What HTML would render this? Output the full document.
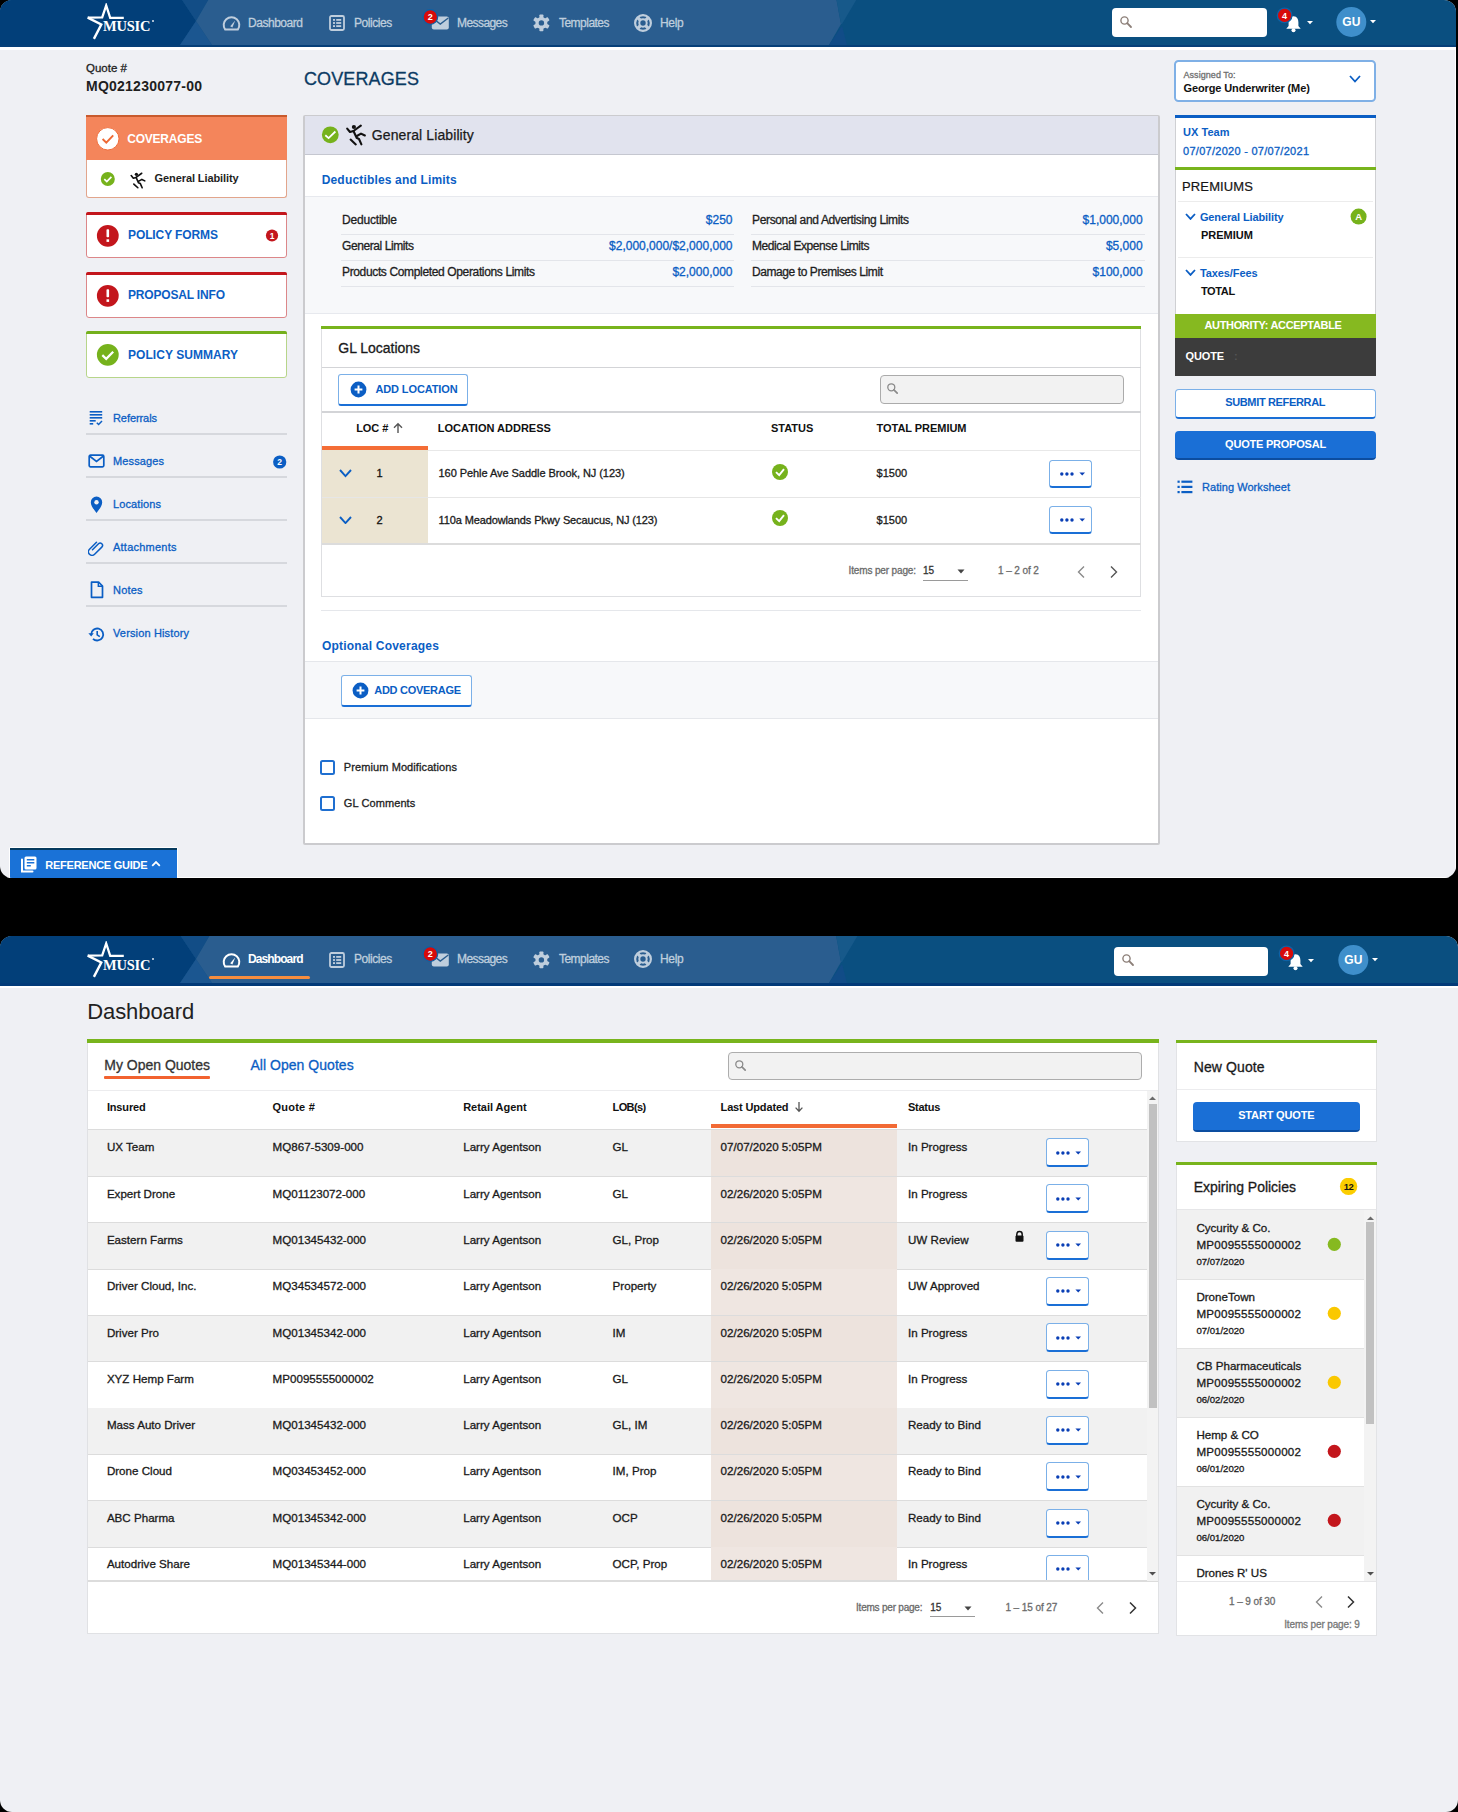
<!DOCTYPE html>
<html><head><meta charset="utf-8"><title>MUSIC</title>
<style>
*{box-sizing:border-box}
html,body{margin:0;padding:0}
body{width:1458px;height:1812px;background:#000;position:relative;overflow:hidden;font-family:"Liberation Sans", sans-serif}
.a{position:absolute}
.t{position:absolute;white-space:nowrap;line-height:1}
.r{-webkit-text-stroke:0.3px currentColor}
#s1{position:absolute;left:0;top:0;width:1456px;height:878px;border-radius:12px;overflow:hidden;background:#eff0f4}
#s2{position:absolute;left:0;top:936px;width:1458px;height:876px;border-radius:12px;overflow:hidden;background:#eff0f4}
#s2i{position:absolute;left:0;top:-936px;width:1458px;height:1812px}
</style></head>
<body>
<div id="s1">
<div class="a" style="left:0px;top:-3px;width:1460px;height:48px;background:#0a4f80"></div>
<svg class="a" style="left:0px;top:-3px;" width="1460" height="48" viewBox="0 0 1460 48">
      <polygon points="0,0 180,0 196,24 180,48 0,48" fill="#023f79"/>
      <polygon points="180,0 210,0 196,24" fill="#124d86"/>
      <polygon points="180,48 212,48 196,24" fill="#1b5690"/>
      <polygon points="210,0 836,0 841,27 829,48 212,48 196,24" fill="#2a5d8f"/>
      <polygon points="836,0 858,0 842,27 841,27" fill="#17598a"/>
      <polygon points="829,48 847,48 842,29" fill="#114c87"/>
    </svg>
<div class="a" style="left:0px;top:45px;width:1460px;height:2.299999999999997px;background:#063f78"></div>
<div class="a" style="left:0px;top:47.3px;width:1460px;height:2.8000000000000043px;background:#ffffff"></div>
<svg class="a" style="left:84px;top:3px;" width="40" height="40" viewBox="0 0 40 40">
      <path d="M3.7,14.6 L18.2,14.4 L22.2,2.5 L26.2,14.8 L39.8,14.8" fill="none" stroke="#fff" stroke-width="2.3" stroke-linejoin="miter"/>
      <path d="M3.7,14.6 L17.3,21.5 L9.9,35.9" fill="none" stroke="#fff" stroke-width="2.4" stroke-linejoin="miter"/>
    </svg>
<div class="t" style="left:103px;top:19.23px;font-size:14.5px;font-weight:700;color:#ffffff;font-family:'Liberation Serif', serif;letter-spacing:-0.211px;">MUSIC</div>
<div class="a" style="left:151.5px;top:20px;width:2.0px;height:2px;background:#dfe6ee;border-radius:1px"></div>
<svg class="a" style="left:222px;top:16px;" width="19" height="15" viewBox="0 0 19 15">
      <path d="M3.2,13.6 A7.8,7.8 0 1 1 15.8,13.6 Z" fill="none" stroke="#bfcedd" stroke-width="2" stroke-linejoin="round"/>
      <path d="M8.2,10.2 L13.2,4.6 L10.4,11.6 Z" fill="#bfcedd"/>
    </svg>
<div class="t r" style="left:248px;top:16.84px;font-size:12px;font-weight:400;color:#bfcedd;letter-spacing:-0.465px;">Dashboard</div>
<svg class="a" style="left:329px;top:15px;" width="16" height="16" viewBox="0 0 16 16">
      <rect x="1" y="1" width="14" height="14" rx="1.5" fill="none" stroke="#bfcedd" stroke-width="1.8"/>
      <rect x="4" y="4" width="2" height="1.8" fill="#bfcedd"/><rect x="7.2" y="4" width="5" height="1.8" fill="#bfcedd"/>
      <rect x="4" y="7.1" width="2" height="1.8" fill="#bfcedd"/><rect x="7.2" y="7.1" width="5" height="1.8" fill="#bfcedd"/>
      <rect x="4" y="10.2" width="2" height="1.8" fill="#bfcedd"/><rect x="7.2" y="10.2" width="5" height="1.8" fill="#bfcedd"/>
    </svg>
<div class="t r" style="left:354px;top:16.84px;font-size:12px;font-weight:400;color:#bfcedd;letter-spacing:-0.437px;">Policies</div>
<svg class="a" style="left:431px;top:16px;" width="19" height="14" viewBox="0 0 19 14">
      <rect x="0.8" y="0.5" width="17" height="13" rx="2" fill="#bfcedd"/>
      <path d="M1.5,2 L9.3,8 L17.3,2" fill="none" stroke="#2a5d8f" stroke-width="1.4"/>
    </svg>
<svg class="a" style="left:422px;top:9px;" width="17" height="17" viewBox="0 0 17 17">
      <circle cx="8.3" cy="8" r="7.3" fill="#d70a0a" stroke="#0c62a6" stroke-width="1.3"/>
      <text x="8.3" y="11.3" font-size="9" font-weight="700" fill="#fff" text-anchor="middle" font-family="Liberation Sans">2</text>
    </svg>
<div class="t r" style="left:457px;top:16.84px;font-size:12px;font-weight:400;color:#bfcedd;letter-spacing:-0.572px;">Messages</div>
<svg class="a" style="left:532px;top:14px;" width="18" height="18" viewBox="0 0 18 18">
      <g transform="translate(9.4,8.9)"><rect x="-2" y="-8.4" width="4" height="4.2" rx="0.8" fill="#bfcedd" transform="rotate(0)"/><rect x="-2" y="-8.4" width="4" height="4.2" rx="0.8" fill="#bfcedd" transform="rotate(60)"/><rect x="-2" y="-8.4" width="4" height="4.2" rx="0.8" fill="#bfcedd" transform="rotate(120)"/><rect x="-2" y="-8.4" width="4" height="4.2" rx="0.8" fill="#bfcedd" transform="rotate(180)"/><rect x="-2" y="-8.4" width="4" height="4.2" rx="0.8" fill="#bfcedd" transform="rotate(240)"/><rect x="-2" y="-8.4" width="4" height="4.2" rx="0.8" fill="#bfcedd" transform="rotate(300)"/>
      <circle r="6" fill="#bfcedd"/><circle r="2.7" fill="#2a5d8f"/></g>
    </svg>
<div class="t r" style="left:559px;top:16.84px;font-size:12px;font-weight:400;color:#bfcedd;letter-spacing:-0.525px;">Templates</div>
<svg class="a" style="left:633px;top:12.6px;" width="20" height="20" viewBox="0 0 20 20">
      <circle cx="10" cy="10" r="7.9" fill="none" stroke="#bfcedd" stroke-width="2.2"/>
      <circle cx="10" cy="10" r="3.7" fill="none" stroke="#bfcedd" stroke-width="2"/>
      <path d="M4.9,4.9 L7.4,7.4 M15.1,4.9 L12.6,7.4 M4.9,15.1 L7.4,12.6 M15.1,15.1 L12.6,12.6" stroke="#bfcedd" stroke-width="3.4"/>
    </svg>
<div class="t r" style="left:660px;top:16.84px;font-size:12px;font-weight:400;color:#bfcedd;letter-spacing:-0.296px;">Help</div>
<div class="a" style="left:1112.3px;top:8.4px;width:154.4000000000001px;height:28.800000000000004px;background:#fff;border-radius:4px"></div>
<svg class="a" style="left:1119px;top:15px;" width="14" height="14" viewBox="0 0 14 14">
      <circle cx="5.5" cy="5.5" r="3.6" fill="none" stroke="#8c7f78" stroke-width="1.4"/>
      <path d="M8.2,8.2 L12,12" stroke="#8c7f78" stroke-width="1.8" stroke-linecap="round"/>
    </svg>
<svg class="a" style="left:1285px;top:15px;" width="17" height="18" viewBox="0 0 17 18">
      <path d="M8.5,1.2 C4.8,1.2 3.6,4.6 3.6,7.5 L3.6,11 L1.3,13.8 L15.7,13.8 L13.4,11 L13.4,7.5 C13.4,4.6 12.2,1.2 8.5,1.2 Z" fill="#fff"/>
      <circle cx="8.5" cy="15.2" r="2" fill="#fff"/>
    </svg>
<svg class="a" style="left:1276px;top:6.5px;" width="17" height="17" viewBox="0 0 17 17">
      <circle cx="8.6" cy="8.4" r="7.3" fill="#d70a0a" stroke="#0c62a6" stroke-width="1.3"/>
      <text x="8.6" y="11.7" font-size="9" font-weight="700" fill="#fff" text-anchor="middle" font-family="Liberation Sans">4</text>
    </svg>
<svg class="a" style="left:1306.5px;top:21px;" width="6" height="4" viewBox="0 0 6 4"><path d="M0,0 L6,0 L3,3.2 Z" fill="#fff"/></svg>
<svg class="a" style="left:1336px;top:7px;" width="31" height="31" viewBox="0 0 31 31">
      <circle cx="15.3" cy="15" r="15" fill="#3f8fcb"/>
      <text x="15.3" y="19.2" font-size="12" font-weight="700" fill="#fff" text-anchor="middle" font-family="Liberation Sans">GU</text>
    </svg>
<svg class="a" style="left:1370px;top:19.5px;" width="6" height="4" viewBox="0 0 6 4"><path d="M0,0 L6,0 L3,3.2 Z" fill="#fff"/></svg>
<div class="a" style="left:1455px;top:49px;width:1px;height:829px;background:#fff"></div>
<div class="a" style="left:0px;top:877px;width:1456px;height:1px;background:#fff"></div>
<div class="t r" style="left:86px;top:63.27px;font-size:11.5px;font-weight:400;color:#1e1e1e;letter-spacing:0.013px;">Quote #</div>
<div class="t" style="left:86px;top:78.85px;font-size:14px;font-weight:700;color:#1e1e1e;letter-spacing:0.240px;">MQ021230077-00</div>
<div class="a" style="left:86px;top:115px;width:201px;height:45px;background:#f4855b"></div>
<div class="a" style="left:86px;top:115px;width:201px;height:2px;background:#c85a2d"></div>
<div class="a" style="left:86px;top:160px;width:201px;height:38px;background:#fff;border:1px solid #e2a58c;border-top:none;border-radius:0 0 3px 3px"></div>
<svg class="a" style="left:96px;top:127px;" width="24" height="24" viewBox="0 0 24 24">
  <circle cx="11.8" cy="11.8" r="11.2" fill="#fff" stroke="#ef6d3b" stroke-width="1"/>
  <path d="M6.6,12 L10.3,15.6 L17.2,8.4" fill="none" stroke="#ee6a35" stroke-width="2"/>
</svg>
<div class="t" style="left:127.2px;top:132.64px;font-size:12px;font-weight:700;color:#ffffff;letter-spacing:-0.211px;">COVERAGES</div>
<svg class="a" style="left:100px;top:171px;" width="16" height="16" viewBox="0 0 16 16">
  <circle cx="7.8" cy="8" r="7" fill="#76b21c"/>
  <path d="M4.3,8.2 L6.8,10.6 L11.4,5.8" fill="none" stroke="#fff" stroke-width="1.7"/>
</svg>
<svg class="a" style="left:129.5px;top:171.5px;width:16px;height:17px" width="19" height="22" viewBox="0 0 20 22"><g fill="none" stroke="#111" stroke-width="2.1" stroke-linecap="round" stroke-linejoin="round">
  <path d="M1.2,4.6 L4,8 L7.5,7 L14.8,1.6"/><path d="M7.5,7 L10,12.5 L15,9.6 L18.8,11.5"/>
  <path d="M10.5,13.8 L13,15 L15.4,20.4"/><path d="M4.6,15.6 L9.8,20.4"/></g>
  <circle cx="7.9" cy="3" r="2.1" fill="#111"/></svg>
<div class="t" style="left:154.6px;top:172.69px;font-size:11px;font-weight:700;color:#1e1e1e;letter-spacing:-0.100px;">General Liability</div>
<div class="a" style="left:86px;top:211.5px;width:201px;height:46.5px;background:#fff;border:1px solid #dc8789;border-radius:3px"></div>
<div class="a" style="left:86px;top:211.5px;width:201px;height:3.0px;background:#c3161c;border-radius:2px 2px 0 0"></div>
<svg class="a" style="left:96px;top:224.0px;" width="24" height="24" viewBox="0 0 24 24">
      <circle cx="11.8" cy="11.8" r="10.9" fill="#c3161c"/>
      <rect x="10.5" y="5.3" width="2.6" height="8" rx="0.8" fill="#fff"/>
      <rect x="10.5" y="15.3" width="2.6" height="2.6" fill="#fff"/>
    </svg>
<div class="t" style="left:128px;top:229.44px;font-size:12px;font-weight:700;color:#0b5ec4;letter-spacing:-0.102px;">POLICY FORMS</div>
<svg class="a" style="left:265px;top:229.0px;" width="14" height="14" viewBox="0 0 14 14">
          <circle cx="7" cy="6.5" r="6.1" fill="#c3161c"/>
          <text x="7" y="9.6" font-size="8.5" font-weight="700" fill="#fff" text-anchor="middle" font-family="Liberation Sans">1</text>
        </svg>
<div class="a" style="left:86px;top:271.5px;width:201px;height:46.5px;background:#fff;border:1px solid #dc8789;border-radius:3px"></div>
<div class="a" style="left:86px;top:271.5px;width:201px;height:3.0px;background:#c3161c;border-radius:2px 2px 0 0"></div>
<svg class="a" style="left:96px;top:284.0px;" width="24" height="24" viewBox="0 0 24 24">
      <circle cx="11.8" cy="11.8" r="10.9" fill="#c3161c"/>
      <rect x="10.5" y="5.3" width="2.6" height="8" rx="0.8" fill="#fff"/>
      <rect x="10.5" y="15.3" width="2.6" height="2.6" fill="#fff"/>
    </svg>
<div class="t" style="left:128px;top:289.44px;font-size:12px;font-weight:700;color:#0b5ec4;letter-spacing:-0.177px;">PROPOSAL INFO</div>
<div class="a" style="left:86px;top:331px;width:201px;height:47px;background:#fff;border:1px solid #b7d58a;border-radius:3px"></div>
<div class="a" style="left:86px;top:331px;width:201px;height:3px;background:#74b01c;border-radius:2px 2px 0 0"></div>
<svg class="a" style="left:96px;top:343px;" width="24" height="24" viewBox="0 0 24 24">
  <circle cx="11.8" cy="11.8" r="10.9" fill="#76b21c"/>
  <path d="M6.3,12.2 L10.2,15.8 L17.2,8.7" fill="none" stroke="#fff" stroke-width="2.3"/>
</svg>
<div class="t" style="left:128px;top:348.84px;font-size:12px;font-weight:700;color:#0b5ec4;letter-spacing:0.050px;">POLICY SUMMARY</div>
<div class="t r" style="left:113px;top:412.69px;font-size:11px;font-weight:400;color:#0b5ec4;letter-spacing:-0.078px;">Referrals</div>
<div class="t r" style="left:113px;top:456.19px;font-size:11px;font-weight:400;color:#0b5ec4;letter-spacing:0.123px;">Messages</div>
<div class="t r" style="left:113px;top:498.99px;font-size:11px;font-weight:400;color:#0b5ec4;letter-spacing:0.113px;">Locations</div>
<div class="t r" style="left:113px;top:542.19px;font-size:11px;font-weight:400;color:#0b5ec4;letter-spacing:0.236px;">Attachments</div>
<div class="t r" style="left:113px;top:585.19px;font-size:11px;font-weight:400;color:#0b5ec4;letter-spacing:0.188px;">Notes</div>
<div class="t r" style="left:113px;top:628.19px;font-size:11px;font-weight:400;color:#0b5ec4;letter-spacing:0.144px;">Version History</div>
<div class="a" style="left:86px;top:433px;width:201px;height:1.5px;background:#d6d8dd"></div>
<div class="a" style="left:86px;top:476px;width:201px;height:1.5px;background:#d6d8dd"></div>
<div class="a" style="left:86px;top:519px;width:201px;height:1.5px;background:#d6d8dd"></div>
<div class="a" style="left:86px;top:562px;width:201px;height:1.5px;background:#d6d8dd"></div>
<div class="a" style="left:86px;top:605px;width:201px;height:1.5px;background:#d6d8dd"></div>
<svg class="a" style="left:88px;top:410px;" width="16" height="16" viewBox="0 0 16 16">
  <rect x="1.7" y="1" width="12.5" height="1.6" fill="#0b5ec4"/><rect x="1.7" y="4" width="12.5" height="1.6" fill="#0b5ec4"/>
  <rect x="1.7" y="7" width="12.5" height="1.6" fill="#0b5ec4"/><rect x="1.7" y="10" width="6" height="1.6" fill="#0b5ec4"/>
  <rect x="1.7" y="13" width="3.5" height="1.6" fill="#0b5ec4"/>
  <path d="M8.8,12.8 L10.6,14.5 L14,11" fill="none" stroke="#0b5ec4" stroke-width="1.5"/>
</svg>
<svg class="a" style="left:88px;top:454px;" width="17" height="14" viewBox="0 0 17 14">
  <rect x="1.2" y="1.2" width="14.6" height="11.6" rx="1.3" fill="none" stroke="#0b5ec4" stroke-width="1.7"/>
  <path d="M1.5,2 L8.5,7.5 L15.5,2" fill="none" stroke="#0b5ec4" stroke-width="1.6"/>
</svg>
<svg class="a" style="left:273px;top:454.5px;" width="14" height="14" viewBox="0 0 14 14">
  <circle cx="6.7" cy="7" r="6.6" fill="#0b5ec4"/>
  <text x="6.7" y="10" font-size="8.5" font-weight="700" fill="#fff" text-anchor="middle" font-family="Liberation Sans">2</text>
</svg>
<svg class="a" style="left:90px;top:495.5px;" width="14" height="18" viewBox="0 0 14 18">
  <path d="M6.5,17 C4,13.5 0.8,10 0.8,6.2 A5.7,5.7 0 0 1 12.2,6.2 C12.2,10 9,13.5 6.5,17 Z" fill="#0b5ec4"/>
  <circle cx="6.5" cy="6.2" r="2.2" fill="#eff0f4"/>
</svg>
<svg class="a" style="left:88px;top:539px;transform:rotate(0deg)" width="17" height="17" viewBox="0 0 17 17">
  <path d="M4.5,10.8 L10.5,4.8 A2.3,2.3 0 0 1 13.8,8.1 L6.6,15.3 A3.6,3.6 0 0 1 1.5,10.2 L8.5,3.2" fill="none" stroke="#0b5ec4" stroke-width="1.5" stroke-linecap="round"/>
</svg>
<svg class="a" style="left:90px;top:581px;" width="14" height="18" viewBox="0 0 14 18">
  <path d="M1.5,1.2 L8.6,1.2 L12.5,5 L12.5,16.3 L1.5,16.3 Z" fill="none" stroke="#0b5ec4" stroke-width="1.7" stroke-linejoin="round"/>
  <path d="M8.3,1.2 L8.3,5.3 L12.5,5.3" fill="none" stroke="#0b5ec4" stroke-width="1.4"/>
</svg>
<svg class="a" style="left:88px;top:625.5px;" width="17" height="17" viewBox="0 0 17 17">
  <path d="M3.2,8.6 A6,6 0 1 1 5,12.8" fill="none" stroke="#0b5ec4" stroke-width="1.8"/>
  <path d="M0.4,7.2 L3.2,10.4 L5.8,7.2 Z" fill="#0b5ec4"/>
  <path d="M9.2,5 L9.2,8.9 L11.8,10.6" fill="none" stroke="#0b5ec4" stroke-width="1.6"/>
</svg>
<div class="t r" style="left:304px;top:70.16px;font-size:18px;font-weight:400;color:#0b3b63;letter-spacing:0.121px;">COVERAGES</div>
<div class="a" style="left:303px;top:114.5px;width:856.5px;height:730.0px;background:#fff;border:2px solid #cbcbce;border-radius:2px"></div>
<div class="a" style="left:305px;top:116px;width:852.5px;height:38px;background:#e1e3ee"></div>
<div class="a" style="left:305px;top:153.5px;width:852.5px;height:1.5px;background:#c5c7d0"></div>
<svg class="a" style="left:321px;top:126px;" width="19" height="19" viewBox="0 0 19 19">
  <circle cx="9.3" cy="8.8" r="8.4" fill="#76b21c"/>
  <path d="M4.3,9.2 L7.6,12.1 L14.4,5.5" fill="none" stroke="#fff" stroke-width="1.8"/>
</svg>
<svg class="a" style="left:345.5px;top:124px;" width="20" height="22" viewBox="0 0 20 22"><g fill="none" stroke="#111" stroke-width="2.1" stroke-linecap="round" stroke-linejoin="round">
  <path d="M1.2,4.6 L4,8 L7.5,7 L14.8,1.6"/><path d="M7.5,7 L10,12.5 L15,9.6 L18.8,11.5"/>
  <path d="M10.5,13.8 L13,15 L15.4,20.4"/><path d="M4.6,15.6 L9.8,20.4"/></g>
  <circle cx="7.9" cy="3" r="2.1" fill="#111"/></svg>
<div class="t r" style="left:371.8px;top:127.75px;font-size:14px;font-weight:400;color:#1a1a1a;letter-spacing:0.101px;-webkit-text-stroke:0.25px #1a1a1a;">General Liability</div>
<div class="t" style="left:321.7px;top:173.94px;font-size:12px;font-weight:700;color:#0b5ec4;letter-spacing:0.173px;">Deductibles and Limits</div>
<div class="a" style="left:305px;top:196px;width:852.5px;height:1px;background:#e7e9ee"></div>
<div class="a" style="left:305px;top:197px;width:852.5px;height:115.5px;background:#f7f8fa"></div>
<div class="a" style="left:305px;top:312.5px;width:852.5px;height:1.0px;background:#e7e9ee"></div>
<div class="t r" style="left:342px;top:214.44px;font-size:12px;font-weight:400;color:#1e1e1e;letter-spacing:-0.189px;">Deductible</div>
<div class="t r" style="left:732.5px;top:214.44px;font-size:12px;font-weight:400;color:#0b5ec4;transform:translateX(-100%);">$250</div>
<div class="t r" style="left:752px;top:214.44px;font-size:12px;font-weight:400;color:#1e1e1e;letter-spacing:-0.347px;">Personal and Advertising Limits</div>
<div class="t r" style="left:1142.6px;top:214.44px;font-size:12px;font-weight:400;color:#0b5ec4;transform:translateX(-100%);">$1,000,000</div>
<div class="t r" style="left:342px;top:240.44px;font-size:12px;font-weight:400;color:#1e1e1e;letter-spacing:-0.413px;">General Limits</div>
<div class="t r" style="left:732.5px;top:240.44px;font-size:12px;font-weight:400;color:#0b5ec4;transform:translateX(-100%);">$2,000,000/$2,000,000</div>
<div class="t r" style="left:752px;top:240.44px;font-size:12px;font-weight:400;color:#1e1e1e;letter-spacing:-0.412px;">Medical Expense Limits</div>
<div class="t r" style="left:1142.6px;top:240.44px;font-size:12px;font-weight:400;color:#0b5ec4;transform:translateX(-100%);">$5,000</div>
<div class="t r" style="left:342px;top:266.44px;font-size:12px;font-weight:400;color:#1e1e1e;letter-spacing:-0.355px;">Products Completed Operations Limits</div>
<div class="t r" style="left:732.5px;top:266.44px;font-size:12px;font-weight:400;color:#0b5ec4;transform:translateX(-100%);">$2,000,000</div>
<div class="t r" style="left:752px;top:266.44px;font-size:12px;font-weight:400;color:#1e1e1e;letter-spacing:-0.423px;">Damage to Premises Limit</div>
<div class="t r" style="left:1142.6px;top:266.44px;font-size:12px;font-weight:400;color:#0b5ec4;transform:translateX(-100%);">$100,000</div>
<div class="a" style="left:340.6px;top:234.20000000000002px;width:393.1px;height:1.1999999999999886px;background:#e3e5ea"></div>
<div class="a" style="left:751px;top:234.20000000000002px;width:393.70000000000005px;height:1.1999999999999886px;background:#e3e5ea"></div>
<div class="a" style="left:340.6px;top:260.09999999999997px;width:393.1px;height:1.2000000000000455px;background:#e3e5ea"></div>
<div class="a" style="left:751px;top:260.09999999999997px;width:393.70000000000005px;height:1.2000000000000455px;background:#e3e5ea"></div>
<div class="a" style="left:340.6px;top:286.09999999999997px;width:393.1px;height:1.2000000000000455px;background:#e3e5ea"></div>
<div class="a" style="left:751px;top:286.09999999999997px;width:393.70000000000005px;height:1.2000000000000455px;background:#e3e5ea"></div>
<div class="a" style="left:320.8px;top:326.2px;width:820.4000000000001px;height:270.59999999999997px;background:#fff;border:1px solid #dedfe2;border-top:none"></div>
<div class="a" style="left:320.8px;top:326.2px;width:820.4000000000001px;height:3.0px;background:#78b41c"></div>
<div class="t r" style="left:338.3px;top:341.35px;font-size:14px;font-weight:400;color:#1a1a1a;letter-spacing:-0.026px;">GL Locations</div>
<div class="a" style="left:321.5px;top:366.5px;width:819.0px;height:1.8000000000000114px;background:#d3d4d7"></div>
<div class="a" style="left:337.6px;top:373.8px;width:130.79999999999995px;height:31.899999999999977px;background:#fff;border:1.2px solid #7bb0e8;border-bottom:2px solid #1a6fd6;border-radius:3px"></div>
<svg class="a" style="left:349.7px;top:381.25px;" width="17" height="17" viewBox="0 0 17 17">
      <circle cx="8.5" cy="8.5" r="7.9" fill="#0b5ec4"/>
      <path d="M8.5,4.6 L8.5,12.4 M4.6,8.5 L12.4,8.5" stroke="#fff" stroke-width="2"/>
    </svg>
<div class="t" style="left:375.4px;top:383.84px;font-size:11px;font-weight:700;color:#0b5ec4;letter-spacing:-0.111px;">ADD LOCATION</div>
<div class="a" style="left:879.5px;top:374.9px;width:244.9000000000001px;height:28.900000000000034px;background:#f2f2f2;border:1.5px solid #ababab;border-radius:4px"></div>
<svg class="a" style="left:886px;top:382px;" width="14" height="14" viewBox="0 0 14 14">
  <circle cx="5.3" cy="5.3" r="3.5" fill="none" stroke="#8a8a8a" stroke-width="1.3"/>
  <path d="M7.9,7.9 L11.2,11.2" stroke="#8a8a8a" stroke-width="1.7" stroke-linecap="round"/>
</svg>
<div class="a" style="left:321.5px;top:411.4px;width:819.0px;height:1.8000000000000114px;background:#d3d4d7"></div>
<div class="t" style="left:356.2px;top:423.19px;font-size:11px;font-weight:700;color:#111;letter-spacing:-0.052px;">LOC #</div>
<svg class="a" style="left:392px;top:422px;" width="12" height="12" viewBox="0 0 12 12"><path d="M6,11 L6,2 M2,5.8 L6,1.8 L10,5.8" fill="none" stroke="#555" stroke-width="1.4"/></svg>
<div class="t" style="left:437.8px;top:423.19px;font-size:11px;font-weight:700;color:#111;">LOCATION ADDRESS</div>
<div class="t" style="left:771px;top:423.19px;font-size:11px;font-weight:700;color:#111;">STATUS</div>
<div class="t" style="left:876.6px;top:423.19px;font-size:11px;font-weight:700;color:#111;letter-spacing:-0.046px;">TOTAL PREMIUM</div>
<div class="a" style="left:321.5px;top:446.2px;width:106.69999999999999px;height:4.100000000000023px;background:#f46d36"></div>
<div class="a" style="left:428.2px;top:449.5px;width:712.3px;height:1.0px;background:#e8e8e8"></div>
<div class="a" style="left:321.5px;top:450.3px;width:106.69999999999999px;height:92.69999999999999px;background:#ebe4d2"></div>
<div class="a" style="left:321.5px;top:496.8px;width:819.0px;height:1.099999999999966px;background:#e6e6e6"></div>
<div class="a" style="left:321.5px;top:543px;width:819.0px;height:1.6000000000000227px;background:#dcdcdc"></div>
<svg class="a" style="left:338.9px;top:469.475px;" width="13" height="8.05" viewBox="0 0 13 8.05"><path d="M1,1 L6.5,7.050000000000001 L12,1" fill="none" stroke="#0b5ec4" stroke-width="1.9"/></svg>
<div class="t r" style="left:376.5px;top:468.19px;font-size:11px;font-weight:400;color:#111;">1</div>
<div class="t r" style="left:438.5px;top:468.19px;font-size:11px;font-weight:400;color:#1a1a1a;letter-spacing:-0.055px;">160 Pehle Ave Saddle Brook, NJ (123)</div>
<svg class="a" style="left:771.4px;top:462.5px;" width="18" height="18" viewBox="0 0 18 18">
      <circle cx="9" cy="9" r="8" fill="#76b21c"/>
      <path d="M5.0,9.16 L8.2,12.2 L13.0,6.2" fill="none" stroke="#fff" stroke-width="1.92"/>
    </svg>
<div class="t r" style="left:876.6px;top:468.19px;font-size:11px;font-weight:400;color:#1a1a1a;">$1500</div>
<div class="a" style="left:1049.1px;top:459.9px;width:43.40000000000009px;height:28.0px;background:#fff;border:1.2px solid #7bb0e8;border-bottom:2px solid #1a6fd6;border-radius:3.5px"></div>
<svg class="a" style="left:1058.8px;top:469.9px;" width="28" height="8" viewBox="0 0 28 8">
      <circle cx="2.8" cy="4" r="1.7" fill="#0a3fb5"/><circle cx="7.9" cy="4" r="1.7" fill="#0a3fb5"/><circle cx="13" cy="4" r="1.7" fill="#0a3fb5"/>
      <path d="M20.4,2.6 L26,2.6 L23.2,5.6 Z" fill="#0a3fb5"/>
    </svg>
<svg class="a" style="left:338.9px;top:515.975px;" width="13" height="8.05" viewBox="0 0 13 8.05"><path d="M1,1 L6.5,7.050000000000001 L12,1" fill="none" stroke="#0b5ec4" stroke-width="1.9"/></svg>
<div class="t r" style="left:376.5px;top:514.69px;font-size:11px;font-weight:400;color:#111;">2</div>
<div class="t r" style="left:438.5px;top:514.69px;font-size:11px;font-weight:400;color:#1a1a1a;letter-spacing:-0.117px;">110a Meadowlands Pkwy Secaucus, NJ (123)</div>
<svg class="a" style="left:771.4px;top:509px;" width="18" height="18" viewBox="0 0 18 18">
      <circle cx="9" cy="9" r="8" fill="#76b21c"/>
      <path d="M5.0,9.16 L8.2,12.2 L13.0,6.2" fill="none" stroke="#fff" stroke-width="1.92"/>
    </svg>
<div class="t r" style="left:876.6px;top:514.69px;font-size:11px;font-weight:400;color:#1a1a1a;">$1500</div>
<div class="a" style="left:1049.1px;top:505.6px;width:43.40000000000009px;height:28.600000000000023px;background:#fff;border:1.2px solid #7bb0e8;border-bottom:2px solid #1a6fd6;border-radius:3.5px"></div>
<svg class="a" style="left:1058.8px;top:515.9000000000001px;" width="28" height="8" viewBox="0 0 28 8">
      <circle cx="2.8" cy="4" r="1.7" fill="#0a3fb5"/><circle cx="7.9" cy="4" r="1.7" fill="#0a3fb5"/><circle cx="13" cy="4" r="1.7" fill="#0a3fb5"/>
      <path d="M20.4,2.6 L26,2.6 L23.2,5.6 Z" fill="#0a3fb5"/>
    </svg>
<div class="t r" style="left:848.6px;top:566.03px;font-size:10px;font-weight:400;color:#6b6b6b;letter-spacing:-0.149px;">Items per page:</div>
<div class="t r" style="left:923px;top:566.03px;font-size:10px;font-weight:400;color:#333;">15</div>
<div class="a" style="left:923px;top:579.6px;width:45px;height:1.0px;background:#9a9a9a"></div>
<svg class="a" style="left:957px;top:569px;" width="8" height="5" viewBox="0 0 8 5"><path d="M0.5,0.5 L7.5,0.5 L4,4.5 Z" fill="#444"/></svg>
<div class="t r" style="left:998px;top:566.03px;font-size:10px;font-weight:400;color:#6b6b6b;letter-spacing:-0.100px;">1 – 2 of 2</div>
<svg class="a" style="left:1076px;top:565px;" width="10" height="14" viewBox="0 0 10 14"><path d="M8,1.5 L2.5,7 L8,12.5" fill="none" stroke="#8a8a8a" stroke-width="1.4"/></svg>
<svg class="a" style="left:1109px;top:565px;" width="10" height="14" viewBox="0 0 10 14"><path d="M2,1.5 L7.5,7 L2,12.5" fill="none" stroke="#555" stroke-width="1.4"/></svg>
<div class="a" style="left:321px;top:610.3px;width:820px;height:1.0px;background:#e5e7eb"></div>
<div class="t" style="left:321.9px;top:639.84px;font-size:12px;font-weight:700;color:#0b5ec4;letter-spacing:0.213px;">Optional Coverages</div>
<div class="a" style="left:305px;top:661.2px;width:852.5px;height:1.0px;background:#e5e7eb"></div>
<div class="a" style="left:305px;top:662.2px;width:852.5px;height:56.09999999999991px;background:#f7f8fa"></div>
<div class="a" style="left:305px;top:718.3px;width:852.5px;height:1.0px;background:#e5e7eb"></div>
<div class="a" style="left:340.7px;top:675px;width:131.2px;height:31.5px;background:#fff;border:1.2px solid #7bb0e8;border-bottom:2px solid #1a6fd6;border-radius:3px"></div>
<svg class="a" style="left:352.1px;top:682.25px;" width="17" height="17" viewBox="0 0 17 17">
      <circle cx="8.5" cy="8.5" r="7.9" fill="#0b5ec4"/>
      <path d="M8.5,4.6 L8.5,12.4 M4.6,8.5 L12.4,8.5" stroke="#fff" stroke-width="2"/>
    </svg>
<div class="t" style="left:374.3px;top:684.84px;font-size:11px;font-weight:700;color:#0b5ec4;letter-spacing:-0.286px;">ADD COVERAGE</div>
<div class="a" style="left:320.3px;top:760.1px;width:15.0px;height:15.0px;border:2px solid #1f6fd0;border-radius:2.5px;background:#fff"></div>
<div class="t r" style="left:343.8px;top:762.19px;font-size:11px;font-weight:400;color:#222;letter-spacing:0.097px;">Premium Modifications</div>
<div class="a" style="left:320.3px;top:796.2px;width:15.0px;height:15.0px;border:2px solid #1f6fd0;border-radius:2.5px;background:#fff"></div>
<div class="t r" style="left:343.8px;top:798.29px;font-size:11px;font-weight:400;color:#222;letter-spacing:0.098px;">GL Comments</div>
<div class="a" style="left:1174.3px;top:60.4px;width:202.0px;height:41.4px;background:#fff;border:2px solid #7fb0e6;border-radius:4.5px"></div>
<div class="t r" style="left:1183.5px;top:70.58px;font-size:9px;font-weight:400;color:#707070;letter-spacing:0.057px;">Assigned To:</div>
<div class="t" style="left:1183.5px;top:82.99px;font-size:11px;font-weight:700;color:#111;letter-spacing:-0.121px;">George Underwriter (Me)</div>
<svg class="a" style="left:1348.8px;top:75.25px;" width="12" height="7.5" viewBox="0 0 12 7.5"><path d="M1,1 L6.0,6.5 L11,1" fill="none" stroke="#0b5ec4" stroke-width="1.8"/></svg>
<div class="a" style="left:1175px;top:115px;width:201px;height:260.5px;background:#fff;border:1px solid #cfd0d3;border-top:none"></div>
<div class="a" style="left:1175px;top:115px;width:201px;height:3px;background:#0b5ec4"></div>
<div class="t" style="left:1183px;top:127.39px;font-size:11px;font-weight:700;color:#0b5ec4;letter-spacing:0.039px;">UX Team</div>
<div class="t r" style="left:1183px;top:146.39px;font-size:11px;font-weight:400;color:#0b5ec4;letter-spacing:0.278px;">07/07/2020 - 07/07/2021</div>
<div class="a" style="left:1175px;top:167.2px;width:201px;height:2.8000000000000114px;background:#78b41c"></div>
<div class="t r" style="left:1182px;top:179.60px;font-size:13px;font-weight:400;color:#151515;letter-spacing:0.134px;-webkit-text-stroke:0.2px #151515;">PREMIUMS</div>
<div class="a" style="left:1178px;top:200.5px;width:195px;height:1.5px;background:#ececec"></div>
<svg class="a" style="left:1184.5px;top:212.82500000000002px;" width="11" height="6.95" viewBox="0 0 11 6.95"><path d="M1,1 L5.5,5.95 L10,1" fill="none" stroke="#0b5ec4" stroke-width="1.8"/></svg>
<div class="t" style="left:1199.9px;top:211.79px;font-size:11px;font-weight:700;color:#0b5ec4;letter-spacing:-0.118px;">General Liability</div>
<svg class="a" style="left:1350px;top:208px;" width="17" height="17" viewBox="0 0 17 17">
  <circle cx="8.6" cy="8.6" r="8" fill="#76b21c"/>
  <text x="8.6" y="12" font-size="9.5" font-weight="700" fill="#fff" text-anchor="middle" font-family="Liberation Sans">A</text>
</svg>
<div class="t" style="left:1200.9px;top:229.69px;font-size:11px;font-weight:700;color:#111;letter-spacing:0.008px;">PREMIUM</div>
<div class="a" style="left:1178px;top:256.7px;width:195px;height:1.5px;background:#ececec"></div>
<svg class="a" style="left:1184.5px;top:269.325px;" width="11" height="6.95" viewBox="0 0 11 6.95"><path d="M1,1 L5.5,5.95 L10,1" fill="none" stroke="#0b5ec4" stroke-width="1.8"/></svg>
<div class="t" style="left:1199.9px;top:268.39px;font-size:11px;font-weight:700;color:#0b5ec4;letter-spacing:-0.080px;">Taxes/Fees</div>
<div class="t" style="left:1200.9px;top:285.79px;font-size:11px;font-weight:700;color:#111;letter-spacing:-0.339px;">TOTAL</div>
<div class="a" style="left:1175px;top:314.2px;width:201px;height:23.80000000000001px;background:#86b920"></div>
<div class="t" style="left:1204.4px;top:320.19px;font-size:11px;font-weight:700;color:#fff;letter-spacing:-0.326px;">AUTHORITY: ACCEPTABLE</div>
<div class="a" style="left:1175px;top:338px;width:201px;height:37.5px;background:#3c3c3c"></div>
<div class="t" style="left:1185.5px;top:350.69px;font-size:11px;font-weight:700;color:#fff;letter-spacing:-0.106px;">QUOTE</div>
<div class="t" style="left:1234px;top:350.69px;font-size:11px;font-weight:700;color:#555;">:</div>
<div class="a" style="left:1174.5px;top:388.6px;width:201.5px;height:30.099999999999966px;background:#fff;border:1.2px solid #7bb0e8;border-bottom:2px solid #1a6fd6;border-radius:4px"></div>
<div class="t" style="left:1275.2px;top:397.29px;font-size:11px;font-weight:700;color:#0b5ec4;transform:translateX(-50%);letter-spacing:-0.336px;">SUBMIT REFERRAL</div>
<div class="a" style="left:1174.5px;top:430.6px;width:201.5px;height:29.799999999999955px;background:#1a6fd6;border-bottom:2px solid #0c4da0;border-radius:4px"></div>
<div class="t" style="left:1275.5px;top:438.69px;font-size:11px;font-weight:700;color:#fff;transform:translateX(-50%);letter-spacing:-0.224px;">QUOTE PROPOSAL</div>
<svg class="a" style="left:1176px;top:479px;" width="18" height="16" viewBox="0 0 18 16">
  <rect x="1.5" y="1.6" width="2.2" height="2.2" fill="#0b5ec4"/><rect x="5.4" y="1.6" width="11" height="2.2" fill="#0b5ec4"/>
  <rect x="1.5" y="6.8" width="2.2" height="2.2" fill="#0b5ec4"/><rect x="5.4" y="6.8" width="11" height="2.2" fill="#0b5ec4"/>
  <rect x="1.5" y="12" width="2.2" height="2.2" fill="#0b5ec4"/><rect x="5.4" y="12" width="11" height="2.2" fill="#0b5ec4"/>
</svg>
<div class="t r" style="left:1202px;top:481.69px;font-size:11px;font-weight:400;color:#0b5ec4;letter-spacing:0.051px;">Rating Worksheet</div>
<div class="a" style="left:9px;top:847px;width:169px;height:31px;background:#fff;border-radius:2px 2px 0 0"></div>
<div class="a" style="left:10px;top:848px;width:167px;height:30px;background:#1a72d7"></div>
<div class="a" style="left:10px;top:848px;width:167px;height:2px;background:#063a5e"></div>
<svg class="a" style="left:19px;top:854px;" width="21" height="21" viewBox="0 0 21 21">
  <path d="M3,5.5 L3,17.5 L13.5,17.5" fill="none" stroke="#fff" stroke-width="2" stroke-linecap="round"/>
  <rect x="5.5" y="2.5" width="12" height="13" rx="1.5" fill="#fff"/>
  <rect x="7.8" y="5" width="7.5" height="1.5" fill="#1a72d7"/><rect x="7.8" y="8" width="7.5" height="1.5" fill="#1a72d7"/><rect x="7.8" y="11" width="4" height="1.5" fill="#1a72d7"/>
</svg>
<div class="t" style="left:45.3px;top:859.89px;font-size:11px;font-weight:700;color:#fff;letter-spacing:-0.246px;">REFERENCE GUIDE</div>
<svg class="a" style="left:151px;top:860px;" width="10" height="7" viewBox="0 0 10 7"><path d="M1.2,5.8 L5,2 L8.8,5.8" fill="none" stroke="#fff" stroke-width="1.8"/></svg>
</div>
<div id="s2"><div id="s2i">
<div class="a" style="left:0px;top:935.4px;width:1460px;height:48.0px;background:#0a4f80"></div>
<svg class="a" style="left:0px;top:935.4px;" width="1460" height="48" viewBox="0 0 1460 48">
      <polygon points="0,0 180,0 196,24 180,48 0,48" fill="#023f79"/>
      <polygon points="180,0 210,0 196,24" fill="#124d86"/>
      <polygon points="180,48 212,48 196,24" fill="#1b5690"/>
      <polygon points="210,0 836,0 841,27 829,48 212,48 196,24" fill="#2a5d8f"/>
      <polygon points="836,0 858,0 842,27 841,27" fill="#17598a"/>
      <polygon points="829,48 847,48 842,29" fill="#114c87"/>
    </svg>
<div class="a" style="left:0px;top:983.4px;width:1460px;height:2.300000000000068px;background:#023a78"></div>
<div class="a" style="left:0px;top:985.7px;width:1460px;height:2.3999999999999773px;background:#ffffff"></div>
<svg class="a" style="left:84px;top:941.4px;" width="40" height="40" viewBox="0 0 40 40">
      <path d="M3.7,14.6 L18.2,14.4 L22.2,2.5 L26.2,14.8 L39.8,14.8" fill="none" stroke="#fff" stroke-width="2.3" stroke-linejoin="miter"/>
      <path d="M3.7,14.6 L17.3,21.5 L9.9,35.9" fill="none" stroke="#fff" stroke-width="2.4" stroke-linejoin="miter"/>
    </svg>
<div class="t" style="left:103px;top:957.63px;font-size:14.5px;font-weight:700;color:#ffffff;font-family:'Liberation Serif', serif;letter-spacing:-0.211px;">MUSIC</div>
<div class="a" style="left:151.5px;top:958.4px;width:2.0px;height:2.0px;background:#dfe6ee;border-radius:1px"></div>
<svg class="a" style="left:222px;top:952.5px;" width="19" height="15" viewBox="0 0 19 15">
      <path d="M3.2,13.6 A7.8,7.8 0 1 1 15.8,13.6 Z" fill="none" stroke="#ffffff" stroke-width="2" stroke-linejoin="round"/>
      <path d="M8.2,10.2 L13.2,4.6 L10.4,11.6 Z" fill="#ffffff"/>
    </svg>
<div class="t" style="left:248px;top:953.34px;font-size:12px;font-weight:700;color:#ffffff;letter-spacing:-0.898px;">Dashboard</div>
<div class="a" style="left:209px;top:975.9px;width:101px;height:3.0px;background:#f68d3e;border-radius:1.5px"></div>
<svg class="a" style="left:329px;top:951.5px;" width="16" height="16" viewBox="0 0 16 16">
      <rect x="1" y="1" width="14" height="14" rx="1.5" fill="none" stroke="#bfcedd" stroke-width="1.8"/>
      <rect x="4" y="4" width="2" height="1.8" fill="#bfcedd"/><rect x="7.2" y="4" width="5" height="1.8" fill="#bfcedd"/>
      <rect x="4" y="7.1" width="2" height="1.8" fill="#bfcedd"/><rect x="7.2" y="7.1" width="5" height="1.8" fill="#bfcedd"/>
      <rect x="4" y="10.2" width="2" height="1.8" fill="#bfcedd"/><rect x="7.2" y="10.2" width="5" height="1.8" fill="#bfcedd"/>
    </svg>
<div class="t r" style="left:354px;top:953.34px;font-size:12px;font-weight:400;color:#bfcedd;letter-spacing:-0.437px;">Policies</div>
<svg class="a" style="left:431px;top:952.5px;" width="19" height="14" viewBox="0 0 19 14">
      <rect x="0.8" y="0.5" width="17" height="13" rx="2" fill="#bfcedd"/>
      <path d="M1.5,2 L9.3,8 L17.3,2" fill="none" stroke="#2a5d8f" stroke-width="1.4"/>
    </svg>
<svg class="a" style="left:422px;top:945.5px;" width="17" height="17" viewBox="0 0 17 17">
      <circle cx="8.3" cy="8" r="7.3" fill="#d70a0a" stroke="#0c62a6" stroke-width="1.3"/>
      <text x="8.3" y="11.3" font-size="9" font-weight="700" fill="#fff" text-anchor="middle" font-family="Liberation Sans">2</text>
    </svg>
<div class="t r" style="left:457px;top:953.34px;font-size:12px;font-weight:400;color:#bfcedd;letter-spacing:-0.572px;">Messages</div>
<svg class="a" style="left:532px;top:950.5px;" width="18" height="18" viewBox="0 0 18 18">
      <g transform="translate(9.4,8.9)"><rect x="-2" y="-8.4" width="4" height="4.2" rx="0.8" fill="#bfcedd" transform="rotate(0)"/><rect x="-2" y="-8.4" width="4" height="4.2" rx="0.8" fill="#bfcedd" transform="rotate(60)"/><rect x="-2" y="-8.4" width="4" height="4.2" rx="0.8" fill="#bfcedd" transform="rotate(120)"/><rect x="-2" y="-8.4" width="4" height="4.2" rx="0.8" fill="#bfcedd" transform="rotate(180)"/><rect x="-2" y="-8.4" width="4" height="4.2" rx="0.8" fill="#bfcedd" transform="rotate(240)"/><rect x="-2" y="-8.4" width="4" height="4.2" rx="0.8" fill="#bfcedd" transform="rotate(300)"/>
      <circle r="6" fill="#bfcedd"/><circle r="2.7" fill="#2a5d8f"/></g>
    </svg>
<div class="t r" style="left:559px;top:953.34px;font-size:12px;font-weight:400;color:#bfcedd;letter-spacing:-0.525px;">Templates</div>
<svg class="a" style="left:633px;top:949.1px;" width="20" height="20" viewBox="0 0 20 20">
      <circle cx="10" cy="10" r="7.9" fill="none" stroke="#bfcedd" stroke-width="2.2"/>
      <circle cx="10" cy="10" r="3.7" fill="none" stroke="#bfcedd" stroke-width="2"/>
      <path d="M4.9,4.9 L7.4,7.4 M15.1,4.9 L12.6,7.4 M4.9,15.1 L7.4,12.6 M15.1,15.1 L12.6,12.6" stroke="#bfcedd" stroke-width="3.4"/>
    </svg>
<div class="t r" style="left:660px;top:953.34px;font-size:12px;font-weight:400;color:#bfcedd;letter-spacing:-0.296px;">Help</div>
<div class="a" style="left:1113.8px;top:946.8px;width:154.4000000000001px;height:28.800000000000068px;background:#fff;border-radius:4px"></div>
<svg class="a" style="left:1120.5px;top:953.4px;" width="14" height="14" viewBox="0 0 14 14">
      <circle cx="5.5" cy="5.5" r="3.6" fill="none" stroke="#8c7f78" stroke-width="1.4"/>
      <path d="M8.2,8.2 L12,12" stroke="#8c7f78" stroke-width="1.8" stroke-linecap="round"/>
    </svg>
<svg class="a" style="left:1286.5px;top:953.4px;" width="17" height="18" viewBox="0 0 17 18">
      <path d="M8.5,1.2 C4.8,1.2 3.6,4.6 3.6,7.5 L3.6,11 L1.3,13.8 L15.7,13.8 L13.4,11 L13.4,7.5 C13.4,4.6 12.2,1.2 8.5,1.2 Z" fill="#fff"/>
      <circle cx="8.5" cy="15.2" r="2" fill="#fff"/>
    </svg>
<svg class="a" style="left:1277.5px;top:944.9px;" width="17" height="17" viewBox="0 0 17 17">
      <circle cx="8.6" cy="8.4" r="7.3" fill="#d70a0a" stroke="#0c62a6" stroke-width="1.3"/>
      <text x="8.6" y="11.7" font-size="9" font-weight="700" fill="#fff" text-anchor="middle" font-family="Liberation Sans">4</text>
    </svg>
<svg class="a" style="left:1308.0px;top:959.4px;" width="6" height="4" viewBox="0 0 6 4"><path d="M0,0 L6,0 L3,3.2 Z" fill="#fff"/></svg>
<svg class="a" style="left:1337.5px;top:945.4px;" width="31" height="31" viewBox="0 0 31 31">
      <circle cx="15.3" cy="15" r="15" fill="#3f8fcb"/>
      <text x="15.3" y="19.2" font-size="12" font-weight="700" fill="#fff" text-anchor="middle" font-family="Liberation Sans">GU</text>
    </svg>
<svg class="a" style="left:1371.5px;top:957.9px;" width="6" height="4" viewBox="0 0 6 4"><path d="M0,0 L6,0 L3,3.2 Z" fill="#fff"/></svg>
<div class="t" style="left:87.2px;top:1000.58px;font-size:22px;font-weight:400;color:#222;letter-spacing:-0.080px;">Dashboard</div>
<div class="a" style="left:87.2px;top:1039.4px;width:1071.8px;height:595.0px;background:#fff;border:1px solid #e0e1e4;border-top:none"></div>
<div class="a" style="left:87.2px;top:1039.4px;width:1071.8px;height:3.3999999999998636px;background:#78b41c"></div>
<div class="t r" style="left:104.3px;top:1057.75px;font-size:14px;font-weight:400;color:#333;letter-spacing:-0.010px;">My Open Quotes</div>
<div class="a" style="left:104.3px;top:1076px;width:105.7px;height:2.599999999999909px;background:#f2622f;border-radius:1px"></div>
<div class="t r" style="left:250.4px;top:1057.75px;font-size:14px;font-weight:400;color:#0b5ec4;letter-spacing:0.040px;">All Open Quotes</div>
<div class="a" style="left:727.5px;top:1052px;width:414.5px;height:27.59999999999991px;background:#f2f2f2;border:1.5px solid #adadad;border-radius:4px"></div>
<svg class="a" style="left:734px;top:1059px;" width="14" height="14" viewBox="0 0 14 14">
  <circle cx="5.3" cy="5.3" r="3.5" fill="none" stroke="#8a8a8a" stroke-width="1.3"/>
  <path d="M7.9,7.9 L11.2,11.2" stroke="#8a8a8a" stroke-width="1.7" stroke-linecap="round"/>
</svg>
<div class="a" style="left:88px;top:1089.5px;width:1070px;height:1.5px;background:#ececee"></div>
<div class="t" style="left:106.9px;top:1101.79px;font-size:11px;font-weight:700;color:#111;letter-spacing:-0.156px;">Insured</div>
<div class="t" style="left:272.6px;top:1101.79px;font-size:11px;font-weight:700;color:#111;letter-spacing:0.208px;">Quote #</div>
<div class="t" style="left:463.2px;top:1101.79px;font-size:11px;font-weight:700;color:#111;letter-spacing:-0.024px;">Retail Agent</div>
<div class="t" style="left:612.6px;top:1101.79px;font-size:11px;font-weight:700;color:#111;letter-spacing:-0.634px;">LOB(s)</div>
<div class="t" style="left:720.6px;top:1101.79px;font-size:11px;font-weight:700;color:#111;letter-spacing:-0.153px;">Last Updated</div>
<div class="t" style="left:908px;top:1101.79px;font-size:11px;font-weight:700;color:#111;letter-spacing:-0.265px;">Status</div>
<svg class="a" style="left:794px;top:1101px;" width="10" height="12" viewBox="0 0 10 12"><path d="M5,1 L5,10 M1.6,6.6 L5,10.2 L8.4,6.6" fill="none" stroke="#555" stroke-width="1.3"/></svg>
<div class="a" style="left:711.4px;top:1124.2px;width:186.10000000000002px;height:3.7999999999999545px;background:#f26a35"></div>
<div class="a" style="left:88px;top:1128.6px;width:1059.4px;height:2.0px;background:#dcdcdc"></div>
<div class="a" style="left:88px;top:1130.3px;width:1059.4px;height:46.32999999999993px;background:#f1f1f1"></div>
<div class="a" style="left:711.4px;top:1130.3px;width:186.10000000000002px;height:46.32999999999993px;background:#ede3dd"></div>
<div class="a" style="left:88px;top:1176px;width:1059.4px;height:1px;background:#dcdcdc"></div>
<div class="t r" style="left:106.9px;top:1141.18px;font-size:11.6px;font-weight:400;color:#1a1a1a;">UX Team</div>
<div class="t r" style="left:272.6px;top:1141.18px;font-size:11.6px;font-weight:400;color:#1a1a1a;">MQ867-5309-000</div>
<div class="t r" style="left:463.2px;top:1141.18px;font-size:11.6px;font-weight:400;color:#1a1a1a;">Larry Agentson</div>
<div class="t r" style="left:612.6px;top:1141.18px;font-size:11.6px;font-weight:400;color:#1a1a1a;">GL</div>
<div class="t r" style="left:720.6px;top:1141.18px;font-size:11.6px;font-weight:400;color:#1a1a1a;">07/07/2020 5:05PM</div>
<div class="t r" style="left:908px;top:1141.18px;font-size:11.6px;font-weight:400;color:#1a1a1a;">In Progress</div>
<div class="a" style="left:1045.5px;top:1138.0px;width:43.5px;height:29.0px;background:#fff;border:1.2px solid #7bb0e8;border-bottom:2px solid #1a6fd6;border-radius:3.5px"></div>
<svg class="a" style="left:1055.25px;top:1148.5px;" width="28" height="8" viewBox="0 0 28 8">
      <circle cx="2.8" cy="4" r="1.7" fill="#0a3fb5"/><circle cx="7.9" cy="4" r="1.7" fill="#0a3fb5"/><circle cx="13" cy="4" r="1.7" fill="#0a3fb5"/>
      <path d="M20.4,2.6 L26,2.6 L23.2,5.6 Z" fill="#0a3fb5"/>
    </svg>
<div class="a" style="left:711.4px;top:1176.6299999999999px;width:186.10000000000002px;height:46.32999999999993px;background:#efe6e1"></div>
<div class="a" style="left:88px;top:1222px;width:1059.4px;height:1px;background:#dcdcdc"></div>
<div class="t r" style="left:106.9px;top:1187.51px;font-size:11.6px;font-weight:400;color:#1a1a1a;">Expert Drone</div>
<div class="t r" style="left:272.6px;top:1187.51px;font-size:11.6px;font-weight:400;color:#1a1a1a;">MQ01123072-000</div>
<div class="t r" style="left:463.2px;top:1187.51px;font-size:11.6px;font-weight:400;color:#1a1a1a;">Larry Agentson</div>
<div class="t r" style="left:612.6px;top:1187.51px;font-size:11.6px;font-weight:400;color:#1a1a1a;">GL</div>
<div class="t r" style="left:720.6px;top:1187.51px;font-size:11.6px;font-weight:400;color:#1a1a1a;">02/26/2020 5:05PM</div>
<div class="t r" style="left:908px;top:1187.51px;font-size:11.6px;font-weight:400;color:#1a1a1a;">In Progress</div>
<div class="a" style="left:1045.5px;top:1184.33px;width:43.5px;height:29.0px;background:#fff;border:1.2px solid #7bb0e8;border-bottom:2px solid #1a6fd6;border-radius:3.5px"></div>
<svg class="a" style="left:1055.25px;top:1194.83px;" width="28" height="8" viewBox="0 0 28 8">
      <circle cx="2.8" cy="4" r="1.7" fill="#0a3fb5"/><circle cx="7.9" cy="4" r="1.7" fill="#0a3fb5"/><circle cx="13" cy="4" r="1.7" fill="#0a3fb5"/>
      <path d="M20.4,2.6 L26,2.6 L23.2,5.6 Z" fill="#0a3fb5"/>
    </svg>
<div class="a" style="left:88px;top:1222.96px;width:1059.4px;height:46.32999999999993px;background:#f1f1f1"></div>
<div class="a" style="left:711.4px;top:1222.96px;width:186.10000000000002px;height:46.32999999999993px;background:#ede3dd"></div>
<div class="a" style="left:88px;top:1269px;width:1059.4px;height:1px;background:#dcdcdc"></div>
<div class="t r" style="left:106.9px;top:1233.84px;font-size:11.6px;font-weight:400;color:#1a1a1a;">Eastern Farms</div>
<div class="t r" style="left:272.6px;top:1233.84px;font-size:11.6px;font-weight:400;color:#1a1a1a;">MQ01345432-000</div>
<div class="t r" style="left:463.2px;top:1233.84px;font-size:11.6px;font-weight:400;color:#1a1a1a;">Larry Agentson</div>
<div class="t r" style="left:612.6px;top:1233.84px;font-size:11.6px;font-weight:400;color:#1a1a1a;">GL, Prop</div>
<div class="t r" style="left:720.6px;top:1233.84px;font-size:11.6px;font-weight:400;color:#1a1a1a;">02/26/2020 5:05PM</div>
<div class="t r" style="left:908px;top:1233.84px;font-size:11.6px;font-weight:400;color:#1a1a1a;">UW Review</div>
<div class="a" style="left:1045.5px;top:1230.66px;width:43.5px;height:29.0px;background:#fff;border:1.2px solid #7bb0e8;border-bottom:2px solid #1a6fd6;border-radius:3.5px"></div>
<svg class="a" style="left:1055.25px;top:1241.16px;" width="28" height="8" viewBox="0 0 28 8">
      <circle cx="2.8" cy="4" r="1.7" fill="#0a3fb5"/><circle cx="7.9" cy="4" r="1.7" fill="#0a3fb5"/><circle cx="13" cy="4" r="1.7" fill="#0a3fb5"/>
      <path d="M20.4,2.6 L26,2.6 L23.2,5.6 Z" fill="#0a3fb5"/>
    </svg>
<div class="a" style="left:711.4px;top:1269.29px;width:186.10000000000002px;height:46.32999999999993px;background:#efe6e1"></div>
<div class="a" style="left:88px;top:1315px;width:1059.4px;height:1px;background:#dcdcdc"></div>
<div class="t r" style="left:106.9px;top:1280.17px;font-size:11.6px;font-weight:400;color:#1a1a1a;">Driver Cloud, Inc.</div>
<div class="t r" style="left:272.6px;top:1280.17px;font-size:11.6px;font-weight:400;color:#1a1a1a;">MQ34534572-000</div>
<div class="t r" style="left:463.2px;top:1280.17px;font-size:11.6px;font-weight:400;color:#1a1a1a;">Larry Agentson</div>
<div class="t r" style="left:612.6px;top:1280.17px;font-size:11.6px;font-weight:400;color:#1a1a1a;">Property</div>
<div class="t r" style="left:720.6px;top:1280.17px;font-size:11.6px;font-weight:400;color:#1a1a1a;">02/26/2020 5:05PM</div>
<div class="t r" style="left:908px;top:1280.17px;font-size:11.6px;font-weight:400;color:#1a1a1a;">UW Approved</div>
<div class="a" style="left:1045.5px;top:1276.99px;width:43.5px;height:29.0px;background:#fff;border:1.2px solid #7bb0e8;border-bottom:2px solid #1a6fd6;border-radius:3.5px"></div>
<svg class="a" style="left:1055.25px;top:1287.49px;" width="28" height="8" viewBox="0 0 28 8">
      <circle cx="2.8" cy="4" r="1.7" fill="#0a3fb5"/><circle cx="7.9" cy="4" r="1.7" fill="#0a3fb5"/><circle cx="13" cy="4" r="1.7" fill="#0a3fb5"/>
      <path d="M20.4,2.6 L26,2.6 L23.2,5.6 Z" fill="#0a3fb5"/>
    </svg>
<div class="a" style="left:88px;top:1315.62px;width:1059.4px;height:46.32999999999993px;background:#f1f1f1"></div>
<div class="a" style="left:711.4px;top:1315.62px;width:186.10000000000002px;height:46.32999999999993px;background:#ede3dd"></div>
<div class="a" style="left:88px;top:1361px;width:1059.4px;height:1px;background:#dcdcdc"></div>
<div class="t r" style="left:106.9px;top:1326.50px;font-size:11.6px;font-weight:400;color:#1a1a1a;">Driver Pro</div>
<div class="t r" style="left:272.6px;top:1326.50px;font-size:11.6px;font-weight:400;color:#1a1a1a;">MQ01345342-000</div>
<div class="t r" style="left:463.2px;top:1326.50px;font-size:11.6px;font-weight:400;color:#1a1a1a;">Larry Agentson</div>
<div class="t r" style="left:612.6px;top:1326.50px;font-size:11.6px;font-weight:400;color:#1a1a1a;">IM</div>
<div class="t r" style="left:720.6px;top:1326.50px;font-size:11.6px;font-weight:400;color:#1a1a1a;">02/26/2020 5:05PM</div>
<div class="t r" style="left:908px;top:1326.50px;font-size:11.6px;font-weight:400;color:#1a1a1a;">In Progress</div>
<div class="a" style="left:1045.5px;top:1323.32px;width:43.5px;height:29.0px;background:#fff;border:1.2px solid #7bb0e8;border-bottom:2px solid #1a6fd6;border-radius:3.5px"></div>
<svg class="a" style="left:1055.25px;top:1333.82px;" width="28" height="8" viewBox="0 0 28 8">
      <circle cx="2.8" cy="4" r="1.7" fill="#0a3fb5"/><circle cx="7.9" cy="4" r="1.7" fill="#0a3fb5"/><circle cx="13" cy="4" r="1.7" fill="#0a3fb5"/>
      <path d="M20.4,2.6 L26,2.6 L23.2,5.6 Z" fill="#0a3fb5"/>
    </svg>
<div class="a" style="left:711.4px;top:1361.9499999999998px;width:186.10000000000002px;height:46.32999999999993px;background:#efe6e1"></div>
<div class="a" style="left:88px;top:1408px;width:1059.4px;height:1px;background:#dcdcdc"></div>
<div class="t r" style="left:106.9px;top:1372.83px;font-size:11.6px;font-weight:400;color:#1a1a1a;">XYZ Hemp Farm</div>
<div class="t r" style="left:272.6px;top:1372.83px;font-size:11.6px;font-weight:400;color:#1a1a1a;">MP0095555000002</div>
<div class="t r" style="left:463.2px;top:1372.83px;font-size:11.6px;font-weight:400;color:#1a1a1a;">Larry Agentson</div>
<div class="t r" style="left:612.6px;top:1372.83px;font-size:11.6px;font-weight:400;color:#1a1a1a;">GL</div>
<div class="t r" style="left:720.6px;top:1372.83px;font-size:11.6px;font-weight:400;color:#1a1a1a;">02/26/2020 5:05PM</div>
<div class="t r" style="left:908px;top:1372.83px;font-size:11.6px;font-weight:400;color:#1a1a1a;">In Progress</div>
<div class="a" style="left:1045.5px;top:1369.65px;width:43.5px;height:29.0px;background:#fff;border:1.2px solid #7bb0e8;border-bottom:2px solid #1a6fd6;border-radius:3.5px"></div>
<svg class="a" style="left:1055.25px;top:1380.15px;" width="28" height="8" viewBox="0 0 28 8">
      <circle cx="2.8" cy="4" r="1.7" fill="#0a3fb5"/><circle cx="7.9" cy="4" r="1.7" fill="#0a3fb5"/><circle cx="13" cy="4" r="1.7" fill="#0a3fb5"/>
      <path d="M20.4,2.6 L26,2.6 L23.2,5.6 Z" fill="#0a3fb5"/>
    </svg>
<div class="a" style="left:88px;top:1408.28px;width:1059.4px;height:46.32999999999993px;background:#f1f1f1"></div>
<div class="a" style="left:711.4px;top:1408.28px;width:186.10000000000002px;height:46.32999999999993px;background:#ede3dd"></div>
<div class="a" style="left:88px;top:1454px;width:1059.4px;height:1px;background:#dcdcdc"></div>
<div class="t r" style="left:106.9px;top:1419.16px;font-size:11.6px;font-weight:400;color:#1a1a1a;">Mass Auto Driver</div>
<div class="t r" style="left:272.6px;top:1419.16px;font-size:11.6px;font-weight:400;color:#1a1a1a;">MQ01345432-000</div>
<div class="t r" style="left:463.2px;top:1419.16px;font-size:11.6px;font-weight:400;color:#1a1a1a;">Larry Agentson</div>
<div class="t r" style="left:612.6px;top:1419.16px;font-size:11.6px;font-weight:400;color:#1a1a1a;">GL, IM</div>
<div class="t r" style="left:720.6px;top:1419.16px;font-size:11.6px;font-weight:400;color:#1a1a1a;">02/26/2020 5:05PM</div>
<div class="t r" style="left:908px;top:1419.16px;font-size:11.6px;font-weight:400;color:#1a1a1a;">Ready to Bind</div>
<div class="a" style="left:1045.5px;top:1415.98px;width:43.5px;height:29.0px;background:#fff;border:1.2px solid #7bb0e8;border-bottom:2px solid #1a6fd6;border-radius:3.5px"></div>
<svg class="a" style="left:1055.25px;top:1426.48px;" width="28" height="8" viewBox="0 0 28 8">
      <circle cx="2.8" cy="4" r="1.7" fill="#0a3fb5"/><circle cx="7.9" cy="4" r="1.7" fill="#0a3fb5"/><circle cx="13" cy="4" r="1.7" fill="#0a3fb5"/>
      <path d="M20.4,2.6 L26,2.6 L23.2,5.6 Z" fill="#0a3fb5"/>
    </svg>
<div class="a" style="left:711.4px;top:1454.61px;width:186.10000000000002px;height:46.32999999999993px;background:#efe6e1"></div>
<div class="a" style="left:88px;top:1500px;width:1059.4px;height:1px;background:#dcdcdc"></div>
<div class="t r" style="left:106.9px;top:1465.49px;font-size:11.6px;font-weight:400;color:#1a1a1a;">Drone Cloud</div>
<div class="t r" style="left:272.6px;top:1465.49px;font-size:11.6px;font-weight:400;color:#1a1a1a;">MQ03453452-000</div>
<div class="t r" style="left:463.2px;top:1465.49px;font-size:11.6px;font-weight:400;color:#1a1a1a;">Larry Agentson</div>
<div class="t r" style="left:612.6px;top:1465.49px;font-size:11.6px;font-weight:400;color:#1a1a1a;">IM, Prop</div>
<div class="t r" style="left:720.6px;top:1465.49px;font-size:11.6px;font-weight:400;color:#1a1a1a;">02/26/2020 5:05PM</div>
<div class="t r" style="left:908px;top:1465.49px;font-size:11.6px;font-weight:400;color:#1a1a1a;">Ready to Bind</div>
<div class="a" style="left:1045.5px;top:1462.31px;width:43.5px;height:29.0px;background:#fff;border:1.2px solid #7bb0e8;border-bottom:2px solid #1a6fd6;border-radius:3.5px"></div>
<svg class="a" style="left:1055.25px;top:1472.81px;" width="28" height="8" viewBox="0 0 28 8">
      <circle cx="2.8" cy="4" r="1.7" fill="#0a3fb5"/><circle cx="7.9" cy="4" r="1.7" fill="#0a3fb5"/><circle cx="13" cy="4" r="1.7" fill="#0a3fb5"/>
      <path d="M20.4,2.6 L26,2.6 L23.2,5.6 Z" fill="#0a3fb5"/>
    </svg>
<div class="a" style="left:88px;top:1500.94px;width:1059.4px;height:46.32999999999993px;background:#f1f1f1"></div>
<div class="a" style="left:711.4px;top:1500.94px;width:186.10000000000002px;height:46.32999999999993px;background:#ede3dd"></div>
<div class="a" style="left:88px;top:1547px;width:1059.4px;height:1px;background:#dcdcdc"></div>
<div class="t r" style="left:106.9px;top:1511.82px;font-size:11.6px;font-weight:400;color:#1a1a1a;">ABC Pharma</div>
<div class="t r" style="left:272.6px;top:1511.82px;font-size:11.6px;font-weight:400;color:#1a1a1a;">MQ01345342-000</div>
<div class="t r" style="left:463.2px;top:1511.82px;font-size:11.6px;font-weight:400;color:#1a1a1a;">Larry Agentson</div>
<div class="t r" style="left:612.6px;top:1511.82px;font-size:11.6px;font-weight:400;color:#1a1a1a;">OCP</div>
<div class="t r" style="left:720.6px;top:1511.82px;font-size:11.6px;font-weight:400;color:#1a1a1a;">02/26/2020 5:05PM</div>
<div class="t r" style="left:908px;top:1511.82px;font-size:11.6px;font-weight:400;color:#1a1a1a;">Ready to Bind</div>
<div class="a" style="left:1045.5px;top:1508.6399999999999px;width:43.5px;height:29.0px;background:#fff;border:1.2px solid #7bb0e8;border-bottom:2px solid #1a6fd6;border-radius:3.5px"></div>
<svg class="a" style="left:1055.25px;top:1519.1399999999999px;" width="28" height="8" viewBox="0 0 28 8">
      <circle cx="2.8" cy="4" r="1.7" fill="#0a3fb5"/><circle cx="7.9" cy="4" r="1.7" fill="#0a3fb5"/><circle cx="13" cy="4" r="1.7" fill="#0a3fb5"/>
      <path d="M20.4,2.6 L26,2.6 L23.2,5.6 Z" fill="#0a3fb5"/>
    </svg>
<div class="a" style="left:711.4px;top:1547.27px;width:186.10000000000002px;height:33.73000000000002px;background:#efe6e1"></div>
<div class="t r" style="left:106.9px;top:1558.15px;font-size:11.6px;font-weight:400;color:#1a1a1a;">Autodrive Share</div>
<div class="t r" style="left:272.6px;top:1558.15px;font-size:11.6px;font-weight:400;color:#1a1a1a;">MQ01345344-000</div>
<div class="t r" style="left:463.2px;top:1558.15px;font-size:11.6px;font-weight:400;color:#1a1a1a;">Larry Agentson</div>
<div class="t r" style="left:612.6px;top:1558.15px;font-size:11.6px;font-weight:400;color:#1a1a1a;">OCP, Prop</div>
<div class="t r" style="left:720.6px;top:1558.15px;font-size:11.6px;font-weight:400;color:#1a1a1a;">02/26/2020 5:05PM</div>
<div class="t r" style="left:908px;top:1558.15px;font-size:11.6px;font-weight:400;color:#1a1a1a;">In Progress</div>
<div class="a" style="left:1045.5px;top:1554.97px;width:43.5px;height:29.0px;background:#fff;border:1.2px solid #7bb0e8;border-bottom:2px solid #1a6fd6;border-radius:3.5px"></div>
<svg class="a" style="left:1055.25px;top:1565.47px;" width="28" height="8" viewBox="0 0 28 8">
      <circle cx="2.8" cy="4" r="1.7" fill="#0a3fb5"/><circle cx="7.9" cy="4" r="1.7" fill="#0a3fb5"/><circle cx="13" cy="4" r="1.7" fill="#0a3fb5"/>
      <path d="M20.4,2.6 L26,2.6 L23.2,5.6 Z" fill="#0a3fb5"/>
    </svg>
<svg class="a" style="left:1014px;top:1230px;" width="11" height="13" viewBox="0 0 11 13">
  <path d="M2.8,6 L2.8,4.2 A2.7,2.7 0 0 1 8.2,4.2 L8.2,6" fill="none" stroke="#111" stroke-width="1.5"/>
  <rect x="1.5" y="5.6" width="8" height="6.2" rx="1" fill="#111"/>
</svg>
<div class="a" style="left:88px;top:1581.2px;width:1059.4px;height:18.799999999999955px;background:#fff"></div>
<div class="a" style="left:88px;top:1580.4px;width:1070px;height:1.199999999999818px;background:#dcdcdc"></div>
<div class="a" style="left:1147.4px;top:1091px;width:10.599999999999909px;height:489.5px;background:#f3f3f3"></div>
<div class="a" style="left:1148.5px;top:1104px;width:8.0px;height:304px;background:#c1c1c1"></div>
<svg class="a" style="left:1148px;top:1094.5px;" width="9" height="6" viewBox="0 0 9 6"><path d="M1,5 L4.5,1.5 L8,5 Z" fill="#6a6a6a"/></svg>
<svg class="a" style="left:1148px;top:1571px;" width="9" height="6" viewBox="0 0 9 6"><path d="M1,1 L4.5,4.5 L8,1 Z" fill="#505050"/></svg>
<div class="t r" style="left:856px;top:1603.24px;font-size:10px;font-weight:400;color:#6b6b6b;letter-spacing:-0.213px;">Items per page:</div>
<div class="t r" style="left:930.3px;top:1603.24px;font-size:10px;font-weight:400;color:#333;">15</div>
<div class="a" style="left:930px;top:1616.3px;width:45.299999999999955px;height:1.0px;background:#9a9a9a"></div>
<svg class="a" style="left:964px;top:1606px;" width="8" height="5" viewBox="0 0 8 5"><path d="M0.5,0.5 L7.5,0.5 L4,4.5 Z" fill="#444"/></svg>
<div class="t r" style="left:1005.4px;top:1603.24px;font-size:10px;font-weight:400;color:#6b6b6b;letter-spacing:-0.075px;">1 – 15 of 27</div>
<svg class="a" style="left:1094.5px;top:1601px;" width="10" height="14" viewBox="0 0 10 14"><path d="M8,1.5 L2.5,7 L8,12.5" fill="none" stroke="#8a8a8a" stroke-width="1.4"/></svg>
<svg class="a" style="left:1127.5px;top:1601px;" width="10" height="14" viewBox="0 0 10 14"><path d="M2,1.5 L7.5,7 L2,12.5" fill="none" stroke="#333" stroke-width="1.5"/></svg>
<div class="a" style="left:1176px;top:1039.8px;width:200.5999999999999px;height:102.20000000000005px;background:#fff;border:1px solid #e2e3e6;border-top:none"></div>
<div class="a" style="left:1176px;top:1039.8px;width:200.5999999999999px;height:3.0px;background:#78b41c"></div>
<div class="t r" style="left:1193.7px;top:1059.85px;font-size:14px;font-weight:400;color:#1a1a1a;letter-spacing:0.107px;">New Quote</div>
<div class="a" style="left:1177px;top:1089.3px;width:198.5999999999999px;height:1.2000000000000455px;background:#ececee"></div>
<div class="a" style="left:1192.7px;top:1101.5px;width:167.20000000000005px;height:30.299999999999955px;background:#1a6fd6;border-bottom:2px solid #0c4da0;border-radius:4px"></div>
<div class="t" style="left:1276.3px;top:1110.09px;font-size:11px;font-weight:700;color:#fff;transform:translateX(-50%);letter-spacing:-0.162px;">START QUOTE</div>
<div class="a" style="left:1176px;top:1161.8px;width:200.5999999999999px;height:474.60000000000014px;background:#fff;border:1px solid #e2e3e6;border-top:none"></div>
<div class="a" style="left:1176px;top:1161.8px;width:200.5999999999999px;height:3.0px;background:#78b41c"></div>
<div class="t r" style="left:1193.7px;top:1180.15px;font-size:14px;font-weight:400;color:#1a1a1a;letter-spacing:-0.032px;">Expiring Policies</div>
<svg class="a" style="left:1339px;top:1178px;" width="19" height="19" viewBox="0 0 19 19">
  <circle cx="9.6" cy="8.4" r="8.7" fill="#fbcd00"/>
  <text x="9.6" y="11.8" font-size="9.5" font-weight="700" fill="#151515" text-anchor="middle" font-family="Liberation Sans" letter-spacing="-0.4">12</text>
</svg>
<div class="a" style="left:1177px;top:1209.2px;width:198.5999999999999px;height:1.2000000000000455px;background:#e6e6e8"></div>
<div class="a" style="left:1177px;top:1210.4px;width:187px;height:69.09999999999991px;background:#f1f1f1"></div>
<div class="a" style="left:1177px;top:1278.9px;width:187px;height:1.199999999999818px;background:#e2e2e2"></div>
<div class="t r" style="left:1196.4px;top:1221.58px;font-size:11.6px;font-weight:400;color:#1a1a1a;">Cycurity &amp; Co.</div>
<div class="t r" style="left:1196.4px;top:1238.58px;font-size:11.6px;font-weight:400;color:#1a1a1a;letter-spacing:0.242px;">MP0095555000002</div>
<div class="t r" style="left:1196.4px;top:1256.87px;font-size:9.6px;font-weight:400;color:#1a1a1a;">07/07/2020</div>
<svg class="a" style="left:1327px;top:1236.9px;" width="15" height="15" viewBox="0 0 15 15"><circle cx="7.3" cy="7.3" r="6.6" fill="#86b920"/></svg>
<div class="a" style="left:1177px;top:1348.0px;width:187px;height:1.199999999999818px;background:#e2e2e2"></div>
<div class="t r" style="left:1196.4px;top:1290.68px;font-size:11.6px;font-weight:400;color:#1a1a1a;">DroneTown</div>
<div class="t r" style="left:1196.4px;top:1307.68px;font-size:11.6px;font-weight:400;color:#1a1a1a;letter-spacing:0.242px;">MP0095555000002</div>
<div class="t r" style="left:1196.4px;top:1325.97px;font-size:9.6px;font-weight:400;color:#1a1a1a;">07/01/2020</div>
<svg class="a" style="left:1327px;top:1306.0px;" width="15" height="15" viewBox="0 0 15 15"><circle cx="7.3" cy="7.3" r="6.6" fill="#fac800"/></svg>
<div class="a" style="left:1177px;top:1348.6000000000001px;width:187px;height:69.09999999999991px;background:#f1f1f1"></div>
<div class="a" style="left:1177px;top:1417.1000000000001px;width:187px;height:1.199999999999818px;background:#e2e2e2"></div>
<div class="t r" style="left:1196.4px;top:1359.78px;font-size:11.6px;font-weight:400;color:#1a1a1a;">CB Pharmaceuticals</div>
<div class="t r" style="left:1196.4px;top:1376.78px;font-size:11.6px;font-weight:400;color:#1a1a1a;letter-spacing:0.242px;">MP0095555000002</div>
<div class="t r" style="left:1196.4px;top:1395.07px;font-size:9.6px;font-weight:400;color:#1a1a1a;">06/02/2020</div>
<svg class="a" style="left:1327px;top:1375.1000000000001px;" width="15" height="15" viewBox="0 0 15 15"><circle cx="7.3" cy="7.3" r="6.6" fill="#fac800"/></svg>
<div class="a" style="left:1177px;top:1486.2px;width:187px;height:1.199999999999818px;background:#e2e2e2"></div>
<div class="t r" style="left:1196.4px;top:1428.88px;font-size:11.6px;font-weight:400;color:#1a1a1a;">Hemp &amp; CO</div>
<div class="t r" style="left:1196.4px;top:1445.88px;font-size:11.6px;font-weight:400;color:#1a1a1a;letter-spacing:0.242px;">MP0095555000002</div>
<div class="t r" style="left:1196.4px;top:1464.17px;font-size:9.6px;font-weight:400;color:#1a1a1a;">06/01/2020</div>
<svg class="a" style="left:1327px;top:1444.2px;" width="15" height="15" viewBox="0 0 15 15"><circle cx="7.3" cy="7.3" r="6.6" fill="#c3161c"/></svg>
<div class="a" style="left:1177px;top:1486.8000000000002px;width:187px;height:69.09999999999991px;background:#f1f1f1"></div>
<div class="a" style="left:1177px;top:1555.3000000000002px;width:187px;height:1.199999999999818px;background:#e2e2e2"></div>
<div class="t r" style="left:1196.4px;top:1497.98px;font-size:11.6px;font-weight:400;color:#1a1a1a;">Cycurity &amp; Co.</div>
<div class="t r" style="left:1196.4px;top:1514.98px;font-size:11.6px;font-weight:400;color:#1a1a1a;letter-spacing:0.242px;">MP0095555000002</div>
<div class="t r" style="left:1196.4px;top:1533.27px;font-size:9.6px;font-weight:400;color:#1a1a1a;">06/01/2020</div>
<svg class="a" style="left:1327px;top:1513.3000000000002px;" width="15" height="15" viewBox="0 0 15 15"><circle cx="7.3" cy="7.3" r="6.6" fill="#c3161c"/></svg>
<div class="t r" style="left:1196.4px;top:1567.08px;font-size:11.6px;font-weight:400;color:#1a1a1a;">Drones R&#x27; US</div>
<div class="a" style="left:1364px;top:1210.4px;width:11.599999999999909px;height:370.5999999999999px;background:#f3f3f3"></div>
<div class="a" style="left:1365.8px;top:1222px;width:8.400000000000091px;height:202px;background:#c1c1c1"></div>
<svg class="a" style="left:1365.5px;top:1214.5px;" width="9" height="6" viewBox="0 0 9 6"><path d="M1,5 L4.5,1.5 L8,5 Z" fill="#6a6a6a"/></svg>
<svg class="a" style="left:1365.5px;top:1571px;" width="9" height="6" viewBox="0 0 9 6"><path d="M1,1 L4.5,4.5 L8,1 Z" fill="#505050"/></svg>
<div class="a" style="left:1177px;top:1581px;width:198.5999999999999px;height:1px;background:#e6e6e8"></div>
<div class="t r" style="left:1229px;top:1597.34px;font-size:10px;font-weight:400;color:#6b6b6b;letter-spacing:-0.087px;">1 – 9 of 30</div>
<svg class="a" style="left:1313.5px;top:1595px;" width="10" height="14" viewBox="0 0 10 14"><path d="M8,1.5 L2.5,7 L8,12.5" fill="none" stroke="#8a8a8a" stroke-width="1.4"/></svg>
<svg class="a" style="left:1345.5px;top:1595px;" width="10" height="14" viewBox="0 0 10 14"><path d="M2,1.5 L7.5,7 L2,12.5" fill="none" stroke="#333" stroke-width="1.5"/></svg>
<div class="t r" style="left:1284.2px;top:1620.24px;font-size:10px;font-weight:400;color:#777;letter-spacing:-0.139px;">Items per page: 9</div>
</div></div>
</body></html>
